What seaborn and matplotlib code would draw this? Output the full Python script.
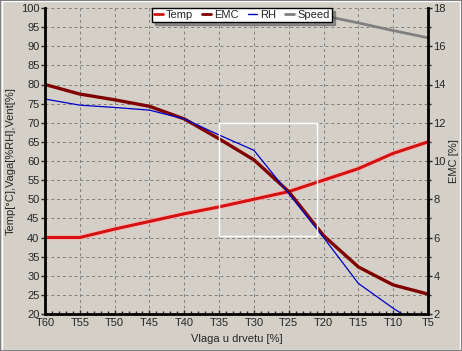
import numpy as np
import pandas as pd
import seaborn as sns
import matplotlib
matplotlib.use("Agg")
import matplotlib.pyplot as plt
from matplotlib.ticker import MultipleLocator, AutoMinorLocator
from matplotlib.lines import Line2D
from matplotlib.patches import Rectangle

categories = ["T60", "T55", "T50", "T45", "T40", "T35", "T30", "T25", "T20", "T15", "T10", "T5"]
temp = [40, 40, 42.2, 44.2, 46.2, 48, 50, 52, 55, 58, 62, 65]
emc = [80, 77.5, 76, 74.3, 71, 65.8, 60.3, 52, 40.5, 32.3, 27.6, 25.2]
rh = [76.2, 74.6, 74, 73.3, 71, 66.8, 62.8, 51.5, 40, 28, 21.5, 15.7]
speed = [np.nan, np.nan, np.nan, np.nan, np.nan, np.nan, np.nan, 100, 98, 96.1, 94.1, 92.2]

BG = "#D4D0C8"
sns.set_style("ticks")
plt.rcParams["font.family"] = ["Liberation Sans", "DejaVu Sans"]
plt.rcParams["font.size"] = 8

df = pd.DataFrame({"x": np.arange(len(categories)), "Temp": temp, "EMC": emc, "RH": rh, "Speed": speed})

fig = plt.figure(figsize=(4.62, 3.51), dpi=100, facecolor=BG)
ax = fig.add_axes([45/462, 1-314/351, (428-45)/462, (314-8)/351])
ax.set_facecolor(BG)

sns.lineplot(data=df, x="x", y="Speed", ax=ax, color="#808080", lw=2.0)
sns.lineplot(data=df, x="x", y="Temp", ax=ax, color="#FFB0B0", lw=4.0, alpha=0.6)
sns.lineplot(data=df, x="x", y="Temp", ax=ax, color="#D41010", lw=2.2)
sns.lineplot(data=df, x="x", y="EMC", ax=ax, color="#800000", lw=2.4)
sns.lineplot(data=df, x="x", y="RH", ax=ax, color="#0000C8", lw=0.9)

ax.set_xlim(0, len(categories) - 1)
ax.set_ylim(20, 100)
ax.set_xticks(np.arange(len(categories)))
ax.set_xticklabels(categories)
ax.xaxis.set_minor_locator(AutoMinorLocator(5))
ax.yaxis.set_major_locator(MultipleLocator(5))
ax.grid(True, which="major", color="#808080", ls=(0, (3, 3)), lw=0.7)
ax.tick_params(axis="x", which="major", direction="in", length=3, width=1, pad=3, labelsize=8)
ax.tick_params(axis="x", which="minor", direction="in", length=2, width=1)
ax.tick_params(axis="y", which="major", direction="out", length=3, width=1, pad=1, labelsize=8)
ax.set_xlabel("Vlaga u drvetu [%]", fontsize=8, labelpad=4)
ax.set_ylabel("Temp[°C],Vaga[%RH],Vent[%]", fontsize=8, labelpad=4)
for s in ["left", "bottom"]:
    ax.spines[s].set_linewidth(2)
    ax.spines[s].set_color("black")
ax.spines["top"].set_visible(False)
ax.spines["right"].set_visible(False)

ax2 = ax.twinx()
ax2.set_ylim(2, 18)
ax2.yaxis.set_major_locator(MultipleLocator(2))
ax2.yaxis.set_minor_locator(MultipleLocator(1))
ax2.tick_params(axis="y", which="major", direction="out", length=3, width=1, pad=1, labelsize=8)
ax2.tick_params(axis="y", which="minor", direction="out", length=2, width=1)
ax2.set_ylabel("EMC [%]", fontsize=8, labelpad=2)
for s in ["top", "left", "bottom"]:
    ax2.spines[s].set_visible(False)
ax2.spines["right"].set_linewidth(2)
ax2.spines["right"].set_color("black")

# zoom selection rectangle
ax.add_patch(Rectangle((5, 40.5), 2.8, 29.5, fill=False, ec="white", lw=1.0, zorder=5))

handles = [Line2D([], [], color="#D41010", lw=2),
           Line2D([], [], color="#800000", lw=2),
           Line2D([], [], color="#0000C8", lw=1),
           Line2D([], [], color="#808080", lw=2)]
leg = ax.legend(handles, ["Temp", "EMC", "RH", "Speed"], ncol=4, loc="upper center",
                bbox_to_anchor=(0.514, 1.0), frameon=True, fancybox=False, shadow=True,
                handlelength=0.8, handletextpad=0.3, columnspacing=0.8,
                borderpad=0.2, fontsize=8, borderaxespad=0)
leg.get_frame().set_edgecolor("black")
leg.get_frame().set_facecolor("white")
leg.get_frame().set_alpha(1)
leg.set_zorder(10)

# window frame
fig.patches.append(Rectangle((0.004, 0.004), 0.992, 0.992, transform=fig.transFigure,
                             fill=False, ec="white", lw=1))
fig.patches.append(Rectangle((0.0, 0.0), 1.0, 1.0, transform=fig.transFigure,
                             fill=False, ec="#808080", lw=1.5))

fig.savefig("out.png", dpi=100, facecolor=BG)
